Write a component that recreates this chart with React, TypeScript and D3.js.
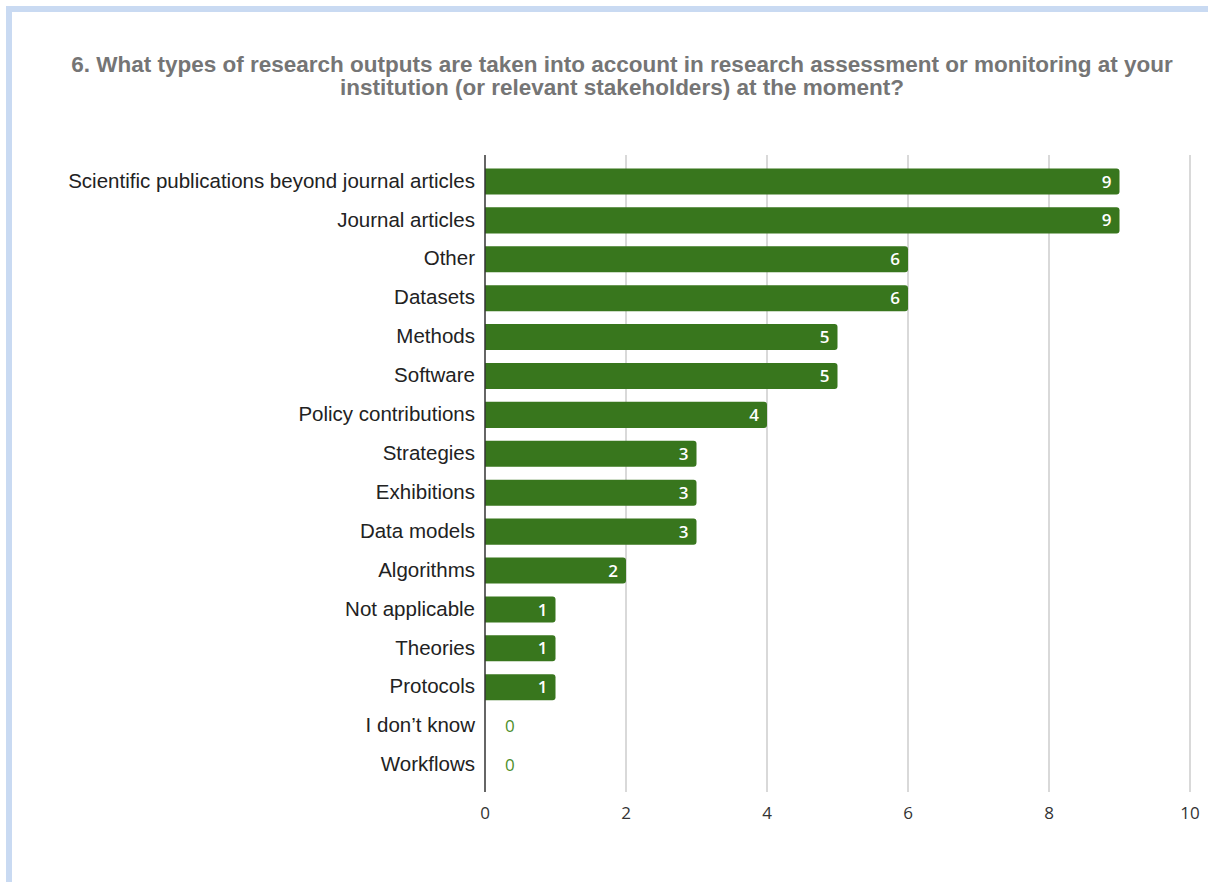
import React from "react";
import * as d3 from "d3";

const categories = [
  "Scientific publications beyond journal articles",
  "Journal articles",
  "Other",
  "Datasets",
  "Methods",
  "Software",
  "Policy contributions",
  "Strategies",
  "Exhibitions",
  "Data models",
  "Algorithms",
  "Not applicable",
  "Theories",
  "Protocols",
  "I don\u2019t know",
  "Workflows",
];
const values = [9, 9, 6, 6, 5, 5, 4, 3, 3, 3, 2, 1, 1, 1, 0, 0];
const xTicks = [0, 2, 4, 6, 8, 10];
const titleLines = [
  "6. What types of research outputs are taken into account in research assessment or monitoring at your",
  "institution (or relevant stakeholders) at the moment?",
];

export default function App() {
  const W = 1208, H = 882;
  const x = d3.scaleLinear().domain([0, 10]).range([485, 1190]);
  const y = d3.scaleBand<string>().domain(categories).range([162, 784.5]).paddingInner(0.33).paddingOuter(0.165);
  const plotTop = 155, plotBottom = 792;
  const green = "#38761d";
  const r = 3;
  const barPath = (x0: number, x1: number, y0: number, h: number) => {
    const w = x1 - x0;
    const rr = Math.min(r, w / 2, h / 2);
    return `M${x0},${y0}H${x1 - rr}Q${x1},${y0} ${x1},${y0 + rr}V${y0 + h - rr}Q${x1},${y0 + h} ${x1 - rr},${y0 + h}H${x0}Z`;
  };
  return (
    <svg width={W} height={H} style={{ position: "absolute", left: 0, top: 0 }}>
      <rect x={0} y={0} width={W} height={H} fill="#fff" />
      <rect x={6} y={6} width={W} height={6} fill="#c9daf2" />
      <rect x={6} y={6} width={6} height={H} fill="#c9daf2" />
      {titleLines.map((t, i) => (
        <text key={i} x={622} y={72 + i * 23} textAnchor="middle" fontFamily="Liberation Sans, Arial, sans-serif" fontWeight="bold" fontSize={22.5} fill="#757575">{t}</text>
      ))}
      {xTicks.filter(t => t > 0).map(t => (
        <line key={t} x1={x(t)} x2={x(t)} y1={plotTop} y2={plotBottom} stroke="#cccccc" strokeWidth={1.5} />
      ))}
      {categories.map((c, i) => {
        const yy = y(c)!;
        const h = y.bandwidth();
        const v = values[i];
        return (
          <g key={c}>
            <text x={475} y={yy + h / 2 - 1} dy="0.35em" textAnchor="end" fontFamily="Liberation Sans, Arial, sans-serif" fontSize={20.5} fill="#222">{c}</text>
            {v > 0 && <path d={barPath(x(0), x(v), yy, h)} fill={green} />}
            {v > 0 ? (
              <text x={x(v) - 8} y={yy + h / 2} dy="0.36em" textAnchor="end" fontFamily="Open Sans, sans-serif" fontSize={17} fontWeight={600} fill="#fff">{v}</text>
            ) : (
              <text x={x(0) + 20} y={yy + h / 2} dy="0.36em" textAnchor="start" fontFamily="Open Sans, sans-serif" fontSize={17} fill="#4e8f2a">{v}</text>
            )}
          </g>
        );
      })}
      <line x1={x(0)} x2={x(0)} y1={plotTop} y2={plotBottom} stroke="#333" strokeWidth={1.5} />
      {xTicks.map(t => (
        <text key={t} x={x(t)} y={813} dy="0.35em" textAnchor="middle" fontFamily="Open Sans, sans-serif" fontSize={17} fill="#333">{t}</text>
      ))}
    </svg>
  );
}
